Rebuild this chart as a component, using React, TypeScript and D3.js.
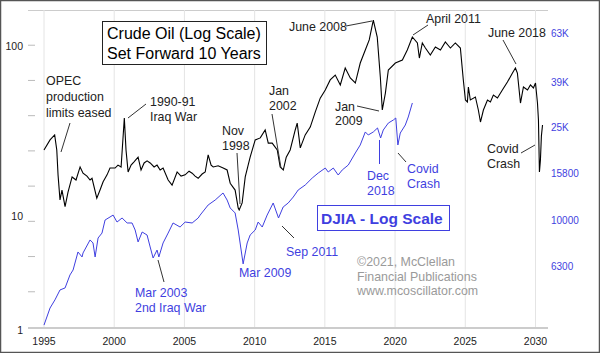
import React, { useEffect } from "react";
import * as d3 from "d3";

// Crude oil (actual dates; drawn shifted forward 10 years)
const oilYears = [
  1985.0, 1985.43, 1985.76, 1985.91, 1986.0, 1986.14, 1986.28, 1986.5, 1986.71, 1987.0,
  1987.28, 1987.57, 1987.78, 1988.06, 1988.28, 1988.42, 1988.76, 1988.99, 1989.21, 1989.49,
  1989.7, 1990.06, 1990.27, 1990.49, 1990.72, 1990.84, 1990.99, 1991.2, 1991.41, 1991.7,
  1991.91, 1992.13, 1992.34, 1992.56, 1992.84, 1993.05, 1993.27, 1993.48, 1993.84, 1994.12,
  1994.48, 1994.76, 1995.05, 1995.33, 1995.55, 1995.76, 1995.98, 1996.26, 1996.48, 1996.69,
  1996.9, 1997.05, 1997.4, 1997.76, 1998.04, 1998.26, 1998.61, 1998.83, 1998.9, 1999.11,
  1999.33, 1999.68, 2000.04, 2000.4, 2000.75, 2000.97, 2001.25, 2001.61, 2001.82, 2002.04,
  2002.25, 2002.53, 2002.89, 2003.03, 2003.25, 2003.6, 2003.96, 2004.32, 2004.67, 2005.03,
  2005.38, 2005.74, 2006.1, 2006.45, 2006.81, 2007.17, 2007.52, 2007.88, 2008.16, 2008.45,
  2008.73, 2008.95, 2009.09, 2009.31, 2009.52, 2010.02, 2010.52, 2010.87, 2011.23, 2011.59,
  2011.73, 2011.94, 2012.16, 2012.51, 2012.87, 2013.23, 2013.58, 2013.94, 2014.29, 2014.65,
  2014.86, 2015.01, 2015.15, 2015.22, 2015.36, 2015.72, 2015.93, 2016.08, 2016.29, 2016.58,
  2016.79, 2017.0, 2017.29, 2017.64, 2018.0, 2018.36, 2018.57, 2018.71, 2018.93, 2019.14,
  2019.43, 2019.64, 2019.85, 2020.0, 2020.14, 2020.21, 2020.28, 2020.35, 2020.42, 2020.5,
];
const oilPrices = [
  24.8, 28.4, 30.4, 24.8, 17.7, 12.6, 14.4, 11.5, 14.0, 17.2,
  16.5, 19.7, 18.1, 17.4, 16.5, 16.9, 12.9, 14.4, 16.1, 17.7,
  19.4, 19.4, 20.2, 19.7, 38.2, 24.8, 18.4, 20.2, 21.1, 22.5,
  18.9, 20.8, 21.4, 20.8, 19.7, 20.2, 18.9, 19.4, 16.5, 15.4,
  18.4, 17.4, 17.7, 18.6, 18.1, 17.4, 16.9, 17.9, 18.4, 23.2,
  20.2, 19.7, 20.0, 19.4, 18.9, 15.8, 14.4, 11.3, 11.0, 12.1,
  17.2, 22.5, 28.4, 29.2, 32.5, 27.2, 27.2, 24.8, 19.7, 18.9,
  22.5, 24.8, 32.5, 35.7, 25.5, 30.4, 33.8, 41.5, 50.0, 55.9,
  64.0, 68.4, 59.8, 75.2, 65.7, 61.4, 80.5, 96.0, 110, 144,
  114.5, 66.6, 42.6, 53.6, 73.2, 80.5, 83.9, 96.0, 114.5, 105.6,
  86.1, 105.6, 98.6, 89.7, 100, 96.0, 107, 98.6, 105.6, 98.6,
  64.0, 48.8, 47.5, 58.2, 48.8, 50.8, 42.6, 36.2, 42.6, 48.8,
  47.5, 52.2, 50.1, 55.9, 62.2, 70.3, 75.2, 70.3, 46.8, 58.2,
  55.9, 59.8, 57.4, 61.4, 46.8, 37.2, 18.4, 21.6, 30.0, 34.8,
];

// DJIA
const djiaYears = [
  1995.0, 1995.43, 1995.78, 1996.14, 1996.5, 1996.85, 1997.07, 1997.42, 1997.71, 1997.78,
  1998.28, 1998.49, 1998.64, 1998.85, 1999.13, 1999.35, 1999.7, 1999.92, 2000.2, 2000.56,
  2000.92, 2001.27, 2001.49, 2001.7, 2001.99, 2002.34, 2002.56, 2002.77, 2003.05, 2003.18,
  2003.48, 2003.84, 2004.19, 2004.69, 2005.05, 2005.55, 2005.98, 2006.12, 2006.69, 2007.19,
  2007.75, 2008.04, 2008.26, 2008.61, 2008.83, 2009.18, 2009.47, 2009.68, 2010.04, 2010.25,
  2010.54, 2010.89, 2011.32, 2011.7, 2012.03, 2012.39, 2012.75, 2013.1, 2013.6, 2014.1,
  2014.53, 2015.03, 2015.24, 2015.6, 2015.95, 2016.24, 2016.67, 2017.17, 2017.52, 2017.88,
  2018.09, 2018.45, 2018.75, 2018.97, 2019.16, 2019.52, 2019.88, 2020.05, 2020.2, 2020.37,
  2020.73, 2020.94, 2021.23,
];
const djiaValues = [
  3540, 4190, 4540, 5010, 5110, 5810, 6100, 7290, 6940, 7220,
  8210, 7970, 6940, 8370, 8790, 10000, 10300, 10500, 9800, 10200,
  9710, 9710, 9060, 8050, 8880, 8620, 7660, 6870, 7430, 6940,
  7970, 8790, 9710, 9330, 9800, 9710, 10200, 10500, 11600, 12180,
  13060, 12180, 11260, 10720, 9060, 6480, 7970, 8620, 9060, 9800,
  9330, 10500, 11830, 10200, 11370, 11830, 12550, 13450, 14130, 15140,
  15910, 16710, 16070, 16710, 15600, 16400, 17220, 19400, 20990, 23870,
  23170, 23870, 24830, 22490, 24330, 26070, 26870, 27400, 20990, 23620,
  25570, 27680, 31780,
];

const xTicks = [1995, 2000, 2005, 2010, 2015, 2020, 2025, 2030];
const leftTickValues = [100, 10];
const leftTickLabels = ["100", "10"];
const rightTicks = [63000, 39000, 25000, 15800, 10000, 6300];
const rightTickLabels = ["63K", "39K", "25K", "15800", "10000", "6300"];

const W = 600;
const H = 353;
const plot = { left: 28, right: 548, top: 10, bottom: 327 };
const FONT = "'Liberation Sans', Arial, sans-serif";
const BLUE = "#3f3fe0";
const TXT = "#222";

export default function App() {
  useEffect(() => {
    document.body.style.margin = "0";
  }, []);

  const x = d3.scaleLinear().domain([1995, 2030]).range([44, 535.5]);
  const yOil = d3.scaleLog().domain([10, 100]).range([217, 47]);
  const yDj = d3.scaleLog().domain([10000, 100000]).range([220, -13]);
  const yTick = d3.scaleLinear().domain([0, 9]).range([plot.bottom, plot.top]);

  const oilLine = d3
    .line<number>()
    .x((_, i) => x(oilYears[i] + 10))
    .y((d) => yOil(d));
  const djLine = d3
    .line<number>()
    .x((_, i) => x(djiaYears[i]))
    .y((d) => yDj(d));

  const ann = (lines: string[], tx: number, ty: number, color: string, lh = 15) => (
    <text x={tx} y={ty} fill={color} fontSize={12.4} fontFamily={FONT}>
      {lines.map((l, i) => (
        <tspan key={i} x={tx} dy={i === 0 ? 0 : lh}>
          {l}
        </tspan>
      ))}
    </text>
  );
  const lead = (x1: number, y1: number, x2: number, y2: number, c = "#333") => (
    <line x1={x1} y1={y1} x2={x2} y2={y2} stroke={c} strokeWidth={1} />
  );

  return (
    <div style={{ position: "absolute", left: 0, top: 0 }}>
      <svg width={W} height={H} style={{ display: "block", background: "#fff" }}>
        <defs>
          <clipPath id="plotclip">
            <rect x={plot.left} y={plot.top} width={plot.right - plot.left} height={plot.bottom - plot.top} />
          </clipPath>
        </defs>
        <rect x={0.5} y={0.5} width={W - 1} height={H - 1} fill="#fff" stroke="#555" strokeWidth={1.5} />
        {/* top line */}
        <line x1={plot.left} x2={plot.right} y1={plot.top + 0.5} y2={plot.top + 0.5} stroke="#ccc" />
        {/* vertical grid */}
        {xTicks.map((t) => (
          <line key={t} x1={x(t)} x2={x(t)} y1={plot.top} y2={plot.bottom} stroke="#e4e4e4" strokeWidth={1} />
        ))}
        {/* left minor ticks */}
        {d3.range(1, 9).map((k) => (
          <line key={k} x1={plot.left} x2={plot.left + 7} y1={yTick(k)} y2={yTick(k)} stroke="#bbb" />
        ))}
        {/* bottom axis */}
        <line x1={plot.left} x2={plot.right} y1={plot.bottom + 1} y2={plot.bottom + 1} stroke="#ccc" strokeWidth={2} />
        {xTicks.map((t) => (
          <text key={t} x={x(t)} y={plot.bottom + 18} textAnchor="middle" fontSize={10.5} fontFamily={FONT} fill={TXT}>
            {t}
          </text>
        ))}
        {leftTickValues.map((v, i) => (
          <text key={v} x={23} y={yOil(v) + 3} textAnchor="end" fontSize={10.5} fontFamily={FONT} fill={TXT}>
            {leftTickLabels[i]}
          </text>
        ))}
        <text x={23} y={plot.bottom + 7} textAnchor="end" fontSize={10.5} fontFamily={FONT} fill={TXT}>
          1
        </text>
        {rightTicks.map((v, i) => (
          <text key={v} x={551} y={yDj(v) + 3.5} fontSize={10} fontFamily={FONT} fill={BLUE}>
            {rightTickLabels[i]}
          </text>
        ))}

        {/* data */}
        <g clipPath="url(#plotclip)">
          <path d={djLine(djiaValues) || ""} fill="none" stroke={BLUE} strokeWidth={1} />
          <path d={oilLine(oilPrices) || ""} fill="none" stroke="#000" strokeWidth={1.1} />
        </g>

        {/* title box */}
        <rect x={102.5} y={21.5} width={164} height={43} fill="#fff" stroke="#222" strokeWidth={1} />
        <text x={107} y={39} fontSize={16} fontFamily={FONT} fill="#000">Crude Oil (Log Scale)</text>
        <text x={107} y={59} fontSize={16} fontFamily={FONT} fill="#000">Set Forward 10 Years</text>

        {/* DJIA box */}
        <rect x={317.5} y={205.5} width={132} height={25} fill="#fff" stroke={BLUE} strokeWidth={1} />
        <text x={321} y={224} fontSize={15.5} fontWeight="bold" fontFamily={FONT} fill={BLUE}>DJIA - Log Scale</text>

        {/* black annotations */}
        {ann(["OPEC", "production", "limits eased"], 46, 85, TXT, 16)}
        {lead(70, 123, 61, 152)}
        {ann(["1990-91", "Iraq War"], 150, 106, TXT)}
        {lead(146, 104, 128, 118)}
        {ann(["Nov", "1998"], 222, 135, TXT)}
        {lead(237, 153, 240, 204)}
        {ann(["Jan", "2002"], 269, 95, TXT)}
        {lead(272, 114, 281, 168)}
        {ann(["June 2008"], 289, 31, TXT)}
        {lead(346, 26, 372, 21)}
        {ann(["Jan", "2009"], 335, 111, TXT, 14)}
        {lead(357, 106, 379, 111)}
        {ann(["April 2011"], 426, 23, TXT)}
        {lead(428, 25, 413, 35)}
        {ann(["June 2018"], 488, 37, TXT)}
        {lead(503, 40, 516, 64)}
        {ann(["Covid", "Crash"], 487, 153, TXT)}
        {lead(521, 153, 535, 145)}

        {/* blue annotations */}
        {ann(["Mar 2003", "2nd Iraq War"], 135, 297, BLUE)}
        {lead(158, 260, 164, 282)}
        {ann(["Mar 2009"], 239, 277, BLUE)}
        {ann(["Sep 2011"], 286, 256, BLUE)}
        {lead(282, 226, 294, 238)}
        {ann(["Dec", "2018"], 367, 180, BLUE, 14.5)}
        {lead(379.5, 140, 379.5, 164, BLUE)}
        {ann(["Covid", "Crash"], 407, 173, BLUE, 14.5)}
        {lead(398, 153, 406, 162, "#333")}

        {/* copyright */}
        {ann(["©2021, McClellan", "Financial Publications", "www.mcoscillator.com"], 357, 266, "#9a9a9a", 14.5)}
      </svg>
    </div>
  );
}
